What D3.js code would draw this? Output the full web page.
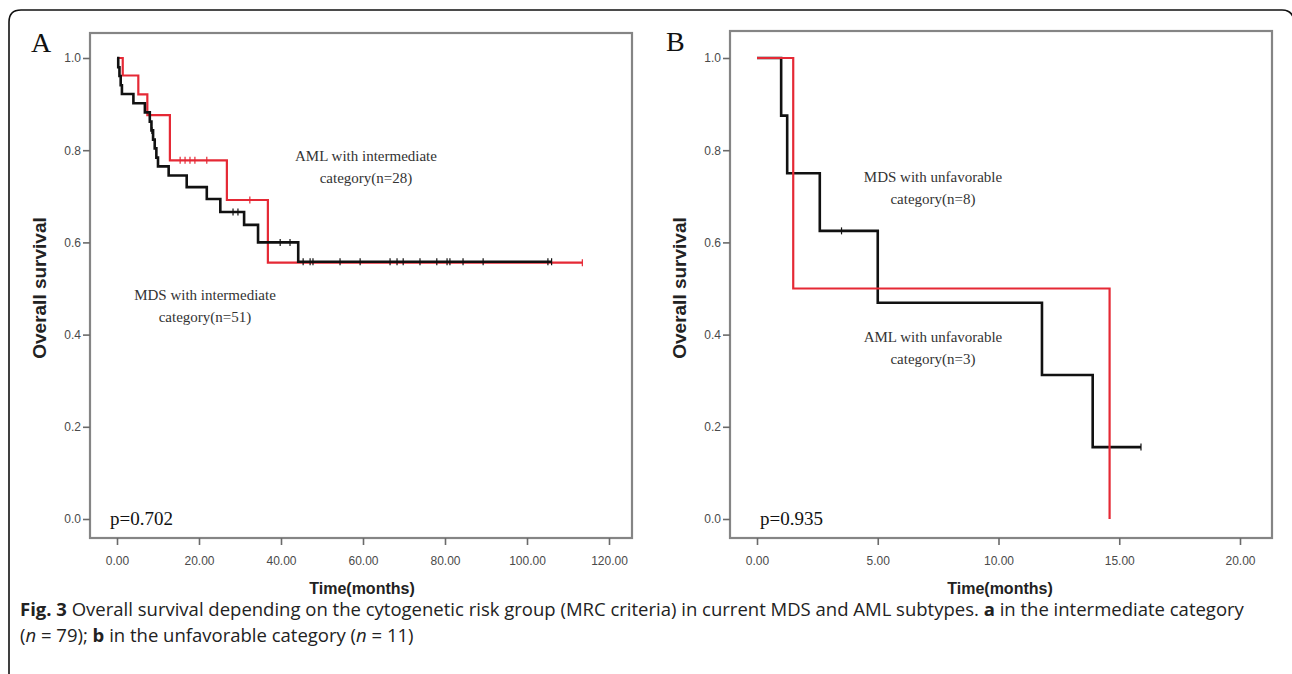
<!DOCTYPE html>
<html>
<head>
<meta charset="utf-8">
<script src="https://cdnjs.cloudflare.com/ajax/libs/d3/7.8.5/d3.min.js"></script>
<style>
  html, body { margin: 0; padding: 0; background: #fff; }
  svg { display: block; }
</style>
</head>
<body>
<svg id="chart" width="1292" height="674"></svg>
<script>

//--------------------------------------
// DATA
//--------------------------------------

var survTicks = [0, 0.2, 0.4, 0.6, 0.8, 1.0];

// A : intermediate category
var aTimeTicks = [0, 20, 40, 60, 80, 100, 120];

var aMdsTime = [0, 0.3, 0.6, 0.9, 1.2, 4.0, 6.8, 8.0, 8.4, 8.8, 9.2, 9.6, 10.0, 12.6, 17.0, 21.9, 25.2, 31.0, 34.4, 44.2, 106.0];
var aMdsSurv = [1, 0.980, 0.961, 0.941, 0.922, 0.902, 0.882, 0.862, 0.843, 0.823, 0.804, 0.784, 0.765, 0.745, 0.720, 0.694, 0.666, 0.638, 0.600, 0.558, 0.558];
var aMdsCens = [8.5, 28.3, 29.5, 39.8, 42.2, 45.4, 47.1, 47.8, 54.4, 59.3, 66.6, 68.3, 69.8, 73.9, 78.0, 80.5, 81.2, 84.4, 89.3, 105.1, 106.0];

var aAmlTime = [0, 1.4, 5.2, 7.4, 12.9, 26.8, 36.8, 113.5];
var aAmlSurv = [1, 0.962, 0.921, 0.876, 0.778, 0.692, 0.556, 0.556];
var aAmlCens = [15.4, 16.6, 17.8, 19.0, 21.9, 32.4, 113.5];

// B : unfavorable category
var bTimeTicks = [0, 5, 10, 15, 20];

var bMdsTime = [0, 1.0, 1.25, 2.6, 5.0, 11.8, 13.9, 15.9];
var bMdsSurv = [1, 0.875, 0.75, 0.625, 0.469, 0.3125, 0.156, 0.156];
var bMdsCens = [3.5, 15.9];

var bAmlTime = [0, 1.5, 14.6];
var bAmlSurv = [1, 0.5, 0];
var bAmlCens = [];


//--------------------------------------
// STYLE
//--------------------------------------

var serif = "'Liberation Serif', 'Times New Roman', serif";
var sans = "'Liberation Sans', Arial, sans-serif";
var captionFont = "'Open Sans', 'Noto Sans', sans-serif";
var red = "#e52935";
var black = "#111";


var svg = d3.select("#chart");

// outer frame, open at the bottom
svg.append("path")
  .attr("d", "M9,700 L9,22 Q9,10 21,10 L1282,10 Q1292,10 1294,20 L1294,700")
  .attr("fill", "none")
  .attr("stroke", "#111")
  .attr("stroke-width", 1.6);


function survAt(times, surv, t) {
  var i = d3.bisectRight(times, t) - 1;
  return surv[Math.max(0, i)];
}


function drawCurve(g, x, y, times, surv, cens, colour, width) {

  var pts = times.map(function(t, i){ return [t, surv[i]]; });

  var line = d3.line()
    .x(function(d){ return x(d[0]); })
    .y(function(d){ return y(d[1]); })
    .curve(d3.curveStepAfter);

  g.append("path")
    .datum(pts)
    .attr("d", line)
    .attr("fill", "none")
    .attr("stroke", colour)
    .attr("stroke-width", width)
    .attr("stroke-linejoin", "miter");

  // censor marks
  g.selectAll(null).data(cens).enter().append("line")
    .attr("x1", function(d){ return x(d); })
    .attr("x2", function(d){ return x(d); })
    .attr("y1", function(d){ return y(survAt(times, surv, d)) - 3.5; })
    .attr("y2", function(d){ return y(survAt(times, surv, d)) + 3.5; })
    .attr("stroke", colour)
    .attr("stroke-width", 1.2);
}


function drawPanel(p) {

  var g = svg.append("g");

  var x = d3.scaleLinear().domain(p.xDomain).range(p.xRange);
  var y = d3.scaleLinear().domain([0, 1]).range(p.yRange);

  // frame of the plot
  g.append("rect")
    .attr("x", p.box[0]).attr("y", p.box[1])
    .attr("width", p.box[2] - p.box[0]).attr("height", p.box[3] - p.box[1])
    .attr("fill", "none")
    .attr("stroke", "#858585")
    .attr("stroke-width", 2.2);

  var yAxis = g.append("g")
    .attr("transform", "translate(" + p.box[0] + ",0)")
    .call(d3.axisLeft(y).tickValues(survTicks).tickSize(7).tickPadding(2).tickFormat(d3.format(".1f")));

  var xAxis = g.append("g")
    .attr("transform", "translate(0," + p.box[3] + ")")
    .call(d3.axisBottom(x).tickValues(p.xTicks).tickSize(7).tickPadding(11).tickFormat(d3.format(".2f")));

  [yAxis, xAxis].forEach(function(a) {
    a.select(".domain").remove();
    a.selectAll(".tick line").attr("stroke", "#6a6a6a").attr("stroke-width", 1.6);
    a.selectAll(".tick text")
      .attr("fill", "#4a4a4a")
      .attr("font-family", sans)
      .attr("font-size", 12);
  });

  // curves
  p.curves.forEach(function(c) {
    drawCurve(g, x, y, c.times, c.surv, c.cens, c.colour, c.width);
  });

  // panel letter
  g.append("text")
    .attr("x", p.letterPos[0]).attr("y", p.letterPos[1])
    .attr("font-family", serif).attr("font-size", 28)
    .attr("fill", "#111")
    .text(p.letter);

  // axis titles
  g.append("text")
    .attr("transform", "translate(" + p.yTitlePos[0] + "," + p.yTitlePos[1] + ") rotate(-90)")
    .attr("text-anchor", "middle")
    .attr("font-family", sans).attr("font-weight", "bold").attr("font-size", 19)
    .attr("fill", "#222")
    .text("Overall survival");

  g.append("text")
    .attr("x", p.xTitlePos[0]).attr("y", p.xTitlePos[1])
    .attr("text-anchor", "middle")
    .attr("font-family", sans).attr("font-weight", "bold").attr("font-size", 16)
    .attr("fill", "#222")
    .text("Time(months)");

  // notes on the curves
  p.notes.forEach(function(n) {
    var t = g.append("text")
      .attr("text-anchor", "middle")
      .attr("font-family", serif).attr("font-size", 15)
      .attr("fill", "#333");
    n.lines.forEach(function(l, i) {
      t.append("tspan").attr("x", n.x).attr("y", n.y + i * 22).text(l);
    });
  });

  g.append("text")
    .attr("x", p.pPos[0]).attr("y", p.pPos[1])
    .attr("font-family", serif).attr("font-size", 19)
    .attr("fill", "#111")
    .text(p.pText);
}


drawPanel({
  letter: "A",
  letterPos: [31, 52],
  box: [90, 33, 632, 538],
  xDomain: [0, 120], xRange: [117, 609], yRange: [519, 58],
  xTicks: aTimeTicks,
  yTitlePos: [46, 288],
  xTitlePos: [362, 594],
  curves: [
    {times: aAmlTime, surv: aAmlSurv, cens: aAmlCens, colour: red, width: 2.2},
    {times: aMdsTime, surv: aMdsSurv, cens: aMdsCens, colour: black, width: 2.6}
  ],
  notes: [
    {x: 366, y: 161, lines: ["AML with intermediate", "category(n=28)"]},
    {x: 205, y: 300, lines: ["MDS with intermediate", "category(n=51)"]}
  ],
  pText: "p=0.702",
  pPos: [110, 525]
});

drawPanel({
  letter: "B",
  letterPos: [666, 51],
  box: [730, 31, 1272, 538],
  xDomain: [0, 20], xRange: [757, 1240], yRange: [519, 58],
  xTicks: bTimeTicks,
  yTitlePos: [686, 288],
  xTitlePos: [1000, 594],
  curves: [
    {times: bMdsTime, surv: bMdsSurv, cens: bMdsCens, colour: black, width: 2.6},
    {times: bAmlTime, surv: bAmlSurv, cens: bAmlCens, colour: red, width: 2.2}
  ],
  notes: [
    {x: 933, y: 182, lines: ["MDS with unfavorable", "category(n=8)"]},
    {x: 933, y: 342, lines: ["AML with unfavorable", "category(n=3)"]}
  ],
  pText: "p=0.935",
  pPos: [760, 525]
});


// caption
var cap = svg.append("g")
  .attr("font-family", captionFont)
  .attr("font-size", 18.5)
  .attr("fill", "#222");

var cap1 = cap.append("text").attr("x", 20).attr("y", 616);
cap1.append("tspan").attr("font-weight", "bold").text("Fig. 3");
cap1.append("tspan").text(" Overall survival depending on the cytogenetic risk group (MRC criteria) in current MDS and AML subtypes. ");
cap1.append("tspan").attr("font-weight", "bold").text("a");
cap1.append("tspan").text(" in the intermediate category");

var cap2 = cap.append("text").attr("x", 20).attr("y", 642);
cap2.append("tspan").text("(");
cap2.append("tspan").attr("font-style", "italic").text("n");
cap2.append("tspan").text(" = 79); ");
cap2.append("tspan").attr("font-weight", "bold").text("b");
cap2.append("tspan").text(" in the unfavorable category (");
cap2.append("tspan").attr("font-style", "italic").text("n");
cap2.append("tspan").text(" = 11)");

</script>
</body>
</html>
